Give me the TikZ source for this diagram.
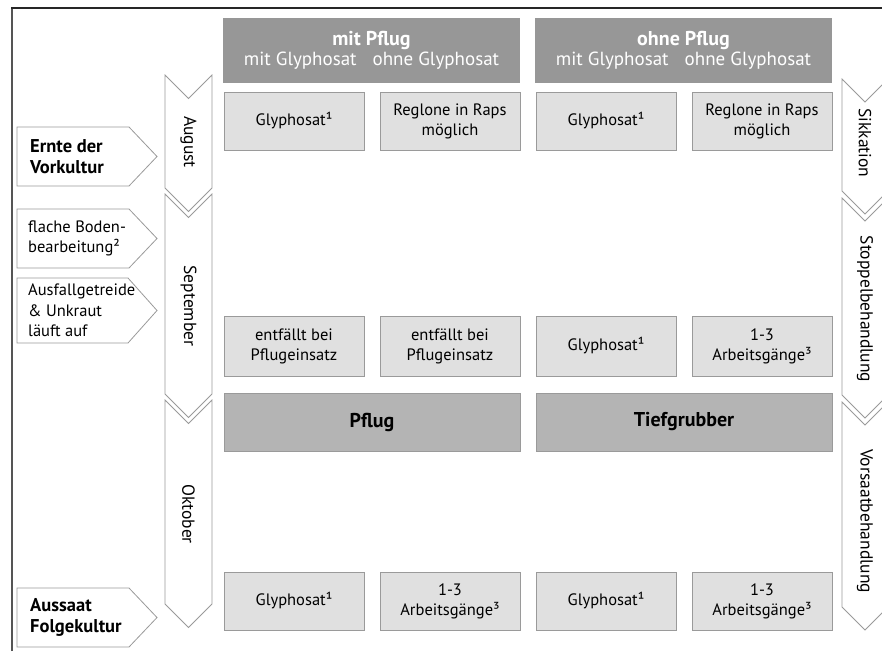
\documentclass[tikz,border=0pt]{standalone}
\usepackage{fontspec}
\setmainfont{PT Sans}
\definecolor{hdrgray}{HTML}{979797}
\definecolor{lightbox}{HTML}{E0E0E0}
\definecolor{midbox}{HTML}{B4B4B4}
\definecolor{edgegray}{HTML}{9A9A9A}
\definecolor{framegray}{HTML}{555555}
\begin{document}
\begin{tikzpicture}[x=1pt,y=-1pt,
  hdr/.style={fill=hdrgray, draw=none, inner sep=0pt, minimum width=297pt, minimum height=65pt, text=white, align=center},
  cell/.style={fill=lightbox, draw=edgegray, line width=0.8pt, inner sep=0pt, minimum width=140pt, minimum height=58pt, align=center, font=\fontsize{16.5}{20}\selectfont},
  bigcell/.style={fill=midbox, draw=edgegray, line width=0.8pt, inner sep=0pt, minimum width=296pt, minimum height=58pt, font=\bfseries\fontsize{20}{22}\selectfont},
  chev/.style={draw=edgegray, fill=white, line width=0.8pt},
  arrowbox/.style={draw=edgegray, fill=white, line width=0.8pt},
  lbl/.style={anchor=west, align=left, inner sep=0pt, font=\fontsize{16.5}{20.5}\selectfont},
  blbl/.style={anchor=west, align=left, inner sep=0pt, font=\bfseries\fontsize{18.5}{21}\selectfont},
  month/.style={rotate=-90, inner sep=0pt, font=\fontsize{17.5}{20}\selectfont}]
\useasboundingbox (0,0) rectangle (882,651);
\clip (0,0) rectangle (882,651);
% frame
\draw[framegray, line width=1.4pt] (12,651) -- (12,8);
\draw[black!85, line width=1.8pt] (11.3,8) -- (882,8);
% headers
\node[hdr] (h1) at (371.5,50.5) {{\bfseries\fontsize{20}{22}\selectfont mit Pflug}\\[1pt]{\fontsize{19}{21}\selectfont mit Glyphosat\hspace{16pt}ohne Glyphosat}};
\node[hdr] (h2) at (683.5,50.5) {{\bfseries\fontsize{20}{22}\selectfont ohne Pflug}\\[1pt]{\fontsize{19}{21}\selectfont mit Glyphosat\hspace{16pt}ohne Glyphosat}};
% row 1
\node[cell] (r1c1) at (294,121) {Glyphosat¹};
\node[cell] (r1c2) at (450,121) {Reglone in Raps\\möglich};
\node[cell] (r1c3) at (606,121) {Glyphosat¹};
\node[cell] (r1c4) at (762,121) {Reglone in Raps\\möglich};
% row 2
\node[cell, minimum height=60pt] (r2c1) at (294,346) {entfällt bei\\Pflugeinsatz};
\node[cell, minimum height=60pt] (r2c2) at (450,346) {entfällt bei\\Pflugeinsatz};
\node[cell, minimum height=60pt] (r2c3) at (606,346) {Glyphosat¹};
\node[cell, minimum height=60pt] (r2c4) at (762,346) {1-3\\Arbeitsgänge³};
% tillage
\node[bigcell] (pflug) at (372,422) {Pflug};
\node[bigcell] (tief) at (684,422) {Tiefgrubber};
% row 3
\node[cell] (r3c1) at (294,601) {Glyphosat¹};
\node[cell] (r3c2) at (450,601) {1-3\\Arbeitsgänge³};
\node[cell] (r3c3) at (606,601) {Glyphosat¹};
\node[cell] (r3c4) at (762,601) {1-3\\Arbeitsgänge³};
% left month chevrons
\draw[chev] (165,75) -- (188.5,98.5) -- (212,75) -- (212,188) -- (188.5,211.5) -- (165,188) -- cycle;
\draw[chev] (165,194) -- (188.5,217.5) -- (212,194) -- (212,394) -- (188.5,417.5) -- (165,394) -- cycle;
\draw[chev] (165,400) -- (188.5,423.5) -- (212,400) -- (212,604) -- (188.5,627.5) -- (165,604) -- cycle;
\node[month] (aug) at (188.5,142) {August};
\node[month] (sep) at (188.5,306) {September};
\node[month] (okt) at (188.5,514) {Oktober};
% right phase chevrons
\draw[chev] (842,79) -- (865,102) -- (888,79) -- (888,191) -- (865,214) -- (842,191) -- cycle;
\draw[chev] (842,198) -- (865,221) -- (888,198) -- (888,395) -- (865,418) -- (842,395) -- cycle;
\draw[chev] (842,402) -- (865,425) -- (888,402) -- (888,607) -- (865,630) -- (842,607) -- cycle;
\node[month] (sik) at (865,143) {Sikkation};
\node[month] (stop) at (865,309) {Stoppelbehandlung};
\node[month] (vors) at (865,521) {Vorsaatbehandlung};
% left arrows
\draw[arrowbox] (17,127) -- (129,127) -- (157,156.5) -- (129,186) -- (17,186) -- cycle;
\draw[arrowbox] (17,209) -- (129,209) -- (157,238.5) -- (129,268) -- (17,268) -- cycle;
\draw[arrowbox] (17,278) -- (128,278) -- (157,310.5) -- (128,343) -- (17,343) -- cycle;
\draw[arrowbox] (17,588) -- (129,588) -- (157,617.5) -- (129,647) -- (17,647) -- cycle;
\node[blbl] (ernte) at (30,156.5) {Ernte der\\Vorkultur};
\node[lbl] (flach) at (28,238.5) {flache Boden-\\bearbeitung²};
\node[lbl] (ausf) at (28,310.5) {Ausfallgetreide\\\&~Unkraut\\läuft auf};
\node[blbl] (auss) at (30,617.5) {Aussaat\\Folgekultur};
\end{tikzpicture}
\end{document}
